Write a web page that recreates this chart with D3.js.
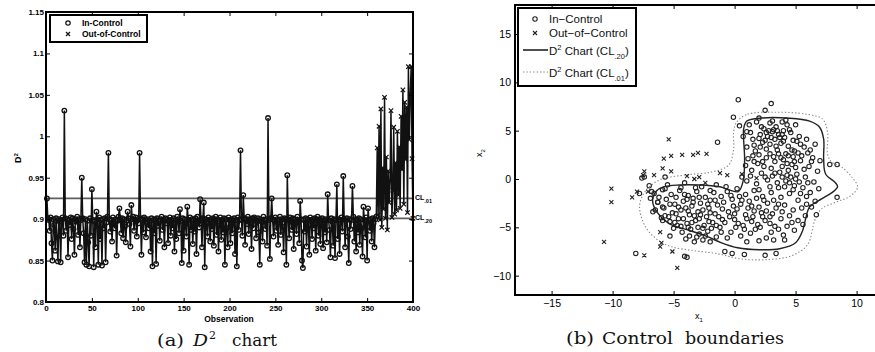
<!DOCTYPE html>
<html>
<head>
<meta charset="utf-8">
<script src="https://cdn.jsdelivr.net/npm/d3@7"></script>
<style>
  body { margin: 0; background: #fff; }
  svg { display: block; }
</style>
</head>
<body>
<svg id="chart" width="875" height="352"></svg>
<script>
// ---------- panel (a): D^2 statistic per observation ----------
const d2Values = [
  0.925, 0.901, 0.899, 0.886, 0.902, 0.871, 0.850, 0.900, 0.893, 0.862, 0.901, 0.878, 0.849, 0.900, 0.897, 0.848, 0.899, 0.902, 0.880, 1.031,
  0.901, 0.886, 0.900, 0.854, 0.899, 0.893, 0.902, 0.876, 0.901, 0.888, 0.857, 0.900, 0.897, 0.903, 0.881, 0.900, 0.866, 0.899, 0.950, 0.901,
  0.883, 0.848, 0.900, 0.845, 0.898, 0.872, 0.843, 0.901, 0.880, 0.936, 0.899, 0.842, 0.897, 0.866, 0.909, 0.900, 0.845, 0.902, 0.876, 0.899,
  0.844, 0.900, 0.889, 0.901, 0.848, 0.896, 0.903, 0.980, 0.900, 0.885, 0.899, 0.873, 0.902, 0.895, 0.889, 0.900, 0.856, 0.898, 0.903, 0.913,
  0.899, 0.883, 0.901, 0.877, 0.900, 0.891, 0.872, 0.898, 0.909, 0.901, 0.894, 0.867, 0.917, 0.900, 0.903, 0.886, 0.899, 0.902, 0.879, 0.900,
  0.895, 0.980, 0.901, 0.857, 0.899, 0.884, 0.902, 0.900, 0.878, 0.896, 0.900, 0.889, 0.898, 0.861, 0.901, 0.843, 0.899, 0.883, 0.900, 0.846,
  0.901, 0.892, 0.898, 0.874, 0.900, 0.903, 0.887, 0.899, 0.866, 0.901, 0.895, 0.900, 0.871, 0.898, 0.902, 0.880, 0.899, 0.889, 0.901, 0.861,
  0.899, 0.876, 0.903, 0.900, 0.883, 0.912, 0.898, 0.847, 0.901, 0.862, 0.900, 0.894, 0.879, 0.915, 0.899, 0.845, 0.902, 0.887, 0.900, 0.870,
  0.899, 0.885, 0.901, 0.858, 0.903, 0.897, 0.890, 0.924, 0.899, 0.866, 0.901, 0.920, 0.842, 0.900, 0.895, 0.879, 0.902, 0.899, 0.873, 0.900,
  0.888, 0.901, 0.868, 0.899, 0.903, 0.881, 0.900, 0.861, 0.897, 0.902, 0.875, 0.899, 0.884, 0.901, 0.845, 0.900, 0.889, 0.866, 0.902, 0.899,
  0.871, 0.900, 0.883, 0.898, 0.901, 0.858, 0.899, 0.843, 0.902, 0.887, 0.900, 0.983, 0.899, 0.880, 0.929, 0.901, 0.869, 0.900, 0.894, 0.903,
  0.882, 0.900, 0.899, 0.864, 0.901, 0.889, 0.902, 0.900, 0.877, 0.898, 0.901, 0.884, 0.845, 0.900, 0.897, 0.873, 0.903, 0.899, 0.888, 0.900,
  0.868, 1.022, 0.899, 0.852, 0.901, 0.925, 0.900, 0.879, 0.898, 0.902, 0.886, 0.900, 0.869, 0.899, 0.903, 0.881, 0.900, 0.891, 0.860, 0.901,
  0.899, 0.845, 0.953, 0.900, 0.877, 0.902, 0.899, 0.887, 0.901, 0.864, 0.900, 0.896, 0.882, 0.903, 0.899, 0.871, 0.922, 0.900, 0.850, 0.841,
  0.899, 0.885, 0.901, 0.867, 0.900, 0.893, 0.857, 0.902, 0.899, 0.876, 0.900, 0.889, 0.901, 0.862, 0.899, 0.903, 0.880, 0.900, 0.870, 0.898,
  0.901, 0.865, 0.899, 0.884, 0.900, 0.872, 0.930, 0.899, 0.887, 0.854, 0.901, 0.897, 0.868, 0.900, 0.853, 0.899, 0.942, 0.876, 0.900, 0.858,
  0.899, 0.902, 0.885, 0.952, 0.900, 0.866, 0.898, 0.901, 0.879, 0.847, 0.900, 0.888, 0.899, 0.940, 0.903, 0.873, 0.900, 0.861, 0.899, 0.884,
  0.901, 0.869, 0.900, 0.889, 0.855, 0.915, 0.899, 0.878, 0.902, 0.850, 0.913, 0.899, 0.886, 0.900, 0.873, 0.901, 0.895, 0.866, 0.900, 0.903,
  0.986, 0.905, 1.012, 0.899, 1.033, 0.890, 0.962, 0.912, 1.047, 0.901, 0.975, 0.887, 0.958, 0.920, 0.946, 1.031, 0.902, 0.935, 1.011, 0.906,
  0.968, 0.911, 1.006, 0.929, 0.987, 0.913, 1.024, 0.960, 1.056, 0.918, 1.041, 0.972, 1.035, 0.908, 1.084, 0.996, 1.051, 1.084, 0.973, 0.901
];
const firstOutOfControl = 361;           // observations from here on are out of control
const controlLimits = [
  { level: 0.901, label: ".20" },
  { level: 0.925, label: ".01" }
];
const obsTicks = [0, 50, 100, 150, 200, 250, 300, 350, 400];
const d2Ticks = [0.8, 0.85, 0.9, 0.95, 1, 1.05, 1.1, 1.15];

// ---------- panel (b): observations in the (x1, x2) plane ----------
const inControl = [
  [0.3,8.2],[3.0,7.8],[2.5,7.1],[-1.4,3.8],[-0.1,6.4],[0.4,5.5],[7.8,1.5],[8.4,1.5],[8.4,-1.9],[6.7,-3.7],
  [-7.4,0.2],[-7.0,-0.7],[-6.7,-3.4],[-5.9,-4.3],[-5.3,-5.9],[-4.1,-8.0],[-8.1,-7.7],[-2.0,-6.5],[-3.7,-5.9],
  [-0.8,-7.5],[0.8,-7.8],[2.5,-7.9],[-3.9,-8.1],[-0.2,-7.7],[3.4,-7.7],[-7.8,-1.5],[-6.8,-1.3],[-5.7,-1.0],
  [-6.3,-2.4],[-5.7,0.2],[-7.6,0.1],
  [1.2,5.6],[1.8,5.9],[2.4,5.2],[2.9,5.8],[3.4,5.4],[3.9,5.9],[4.5,5.1],[5.0,5.6],[2.1,4.6],[2.7,4.4],
  [3.1,4.9],[3.6,4.6],[4.1,4.3],[4.6,4.8],[5.3,4.4],[1.5,4.1],[2.3,3.8],[2.9,3.6],[3.3,4.1],[3.8,3.7],
  [4.4,3.4],[5.1,3.9],[5.7,3.3],[6.2,3.0],[1.0,3.3],[1.7,2.9],[2.6,3.1],[3.5,3.0],[4.2,2.6],[4.9,2.9],
  [5.5,2.4],[6.4,2.2],[0.7,4.4],[3.2,5.1],[2.5,4.0],[4.0,5.0],[4.8,4.0],[3.0,4.3],[3.7,4.3],[2.8,5.0],
  [1.1,2.1],[1.9,1.6],[2.6,2.2],[3.3,1.8],[4.0,2.0],[4.7,1.5],[5.4,1.9],[6.1,1.3],[6.8,0.8],[1.4,0.9],
  [2.2,0.6],[3.0,1.1],[3.7,0.7],[4.4,0.9],[5.1,0.5],[5.8,0.2],[6.5,-0.3],[1.0,-0.2],[1.8,-0.5],[2.7,-0.1],
  [3.5,-0.4],[4.2,-0.2],[4.9,-0.7],[5.6,-0.9],[6.2,-1.4],[0.9,1.4],[2.4,1.3],[3.9,1.3],[5.0,1.2],[4.6,0.2],
  [5.3,-0.3],[3.1,0.3],[4.1,-0.8],[5.9,-1.8],[6.6,-2.3],[2.0,2.5],[3.6,2.6],[4.8,2.3],[5.7,1.0],[4.3,1.6],
  [-0.6,-1.3],[0.2,-1.0],[0.9,-1.6],[1.6,-1.2],[2.3,-1.8],[3.0,-1.4],[3.8,-1.9],[4.5,-1.5],[5.2,-2.2],[-0.9,-2.4],
  [-0.2,-2.1],[0.5,-2.6],[1.2,-2.3],[2.0,-2.9],[2.7,-2.5],[3.4,-3.0],[4.1,-2.7],[4.8,-3.2],[5.5,-3.0],[-0.5,-3.4],
  [0.2,-3.1],[0.9,-3.7],[1.6,-3.3],[2.3,-3.9],[3.1,-3.6],[3.8,-4.1],[4.5,-3.8],[5.2,-4.3],[-0.8,-4.5],[0.0,-4.2],
  [0.7,-4.8],[1.4,-4.4],[2.1,-5.0],[2.9,-4.6],[3.6,-5.2],[4.3,-4.9],[-0.3,-5.5],[0.5,-5.9],[1.3,-5.6],[2.6,-6.1],
  [1.8,-2.0],[3.2,-2.2],[0.4,-1.8],[2.6,-3.3],[1.0,-4.1],[3.9,-3.4],[-0.1,-2.8],[1.9,-4.7],[4.0,-5.8],[5.9,-2.6],
  [-6.6,-1.5],[-5.9,-1.1],[-5.2,-1.6],[-4.5,-1.2],[-3.8,-1.7],[-3.1,-1.3],[-2.4,-1.9],[-1.7,-1.4],[-1.1,-1.8],[-6.3,-2.4],
  [-5.6,-2.1],[-4.9,-2.6],[-4.2,-2.3],[-3.5,-2.8],[-2.8,-2.5],[-2.1,-3.0],[-1.4,-2.7],[-6.5,-3.2],[-5.8,-3.0],[-5.1,-3.5],
  [-4.4,-3.2],[-3.7,-3.7],[-3.0,-3.4],[-2.3,-3.9],[-1.6,-3.6],[-6.0,-4.0],[-5.3,-4.4],[-4.6,-4.1],[-3.9,-4.6],[-3.2,-4.3],
  [-2.5,-4.8],[-1.8,-4.5],[-1.2,-5.0],[-5.0,-5.1],[-4.3,-5.5],[-3.6,-5.2],[-2.9,-5.7],[-2.2,-5.4],[-1.5,-6.0],[-4.0,-6.2],
  [-3.3,-6.5],[-2.6,-6.3],[-5.5,-0.6],[-4.1,-0.4],[-2.7,-0.8],[-1.5,-0.6],[-6.9,-2.0],[-4.7,-4.8],[-3.4,-2.0],[-2.0,-2.2],
  [-5.7,-3.8],[-4.0,-3.0],[-2.6,-3.2],[-3.1,-6.0],[-1.9,-5.1],
  [2.2,5.4],[2.6,4.8],[3.5,5.0],[3.9,4.6],[4.3,5.6],[2.0,4.2],[3.4,3.4],[4.0,3.9],[4.7,3.0],[5.4,3.6],
  [1.3,4.8],[1.6,3.5],[2.1,3.3],[5.9,4.1],[6.3,1.8],[6.0,2.7],[5.2,2.7],[3.8,2.2],[2.9,2.6],[1.5,2.4],
  [3.3,0.6],[3.9,0.2],[4.5,-0.4],[5.0,0.0],[3.6,-0.9],[4.3,0.4],[4.9,1.8],[2.5,0.2],[1.3,0.3],[2.0,-1.1],
  [5.4,-1.5],[6.0,-0.4],[6.9,-1.0],[4.8,-1.1],[2.9,-0.8],[0.6,0.2],[1.6,1.8],[3.2,2.3],[2.3,1.8],[4.4,2.4],
  [0.6,-2.2],[1.4,-2.8],[2.2,-3.5],[2.9,-3.9],[3.6,-2.6],[1.1,-3.0],[0.3,-4.6],[1.7,-5.2],[2.5,-4.3],[3.3,-4.9],
  [4.7,-4.5],[-0.4,-3.9],[0.8,-5.2],[3.0,-5.5],[4.9,-5.3],[-1.0,-3.1],[1.5,-3.9],[2.4,-2.2],[0.1,-5.0],[-0.6,-6.1],
  [-4.8,-1.9],[-4.1,-1.6],[-3.4,-2.4],[-2.9,-1.9],[-2.2,-2.6],[-1.6,-2.2],[-5.3,-2.6],[-4.6,-2.9],[-3.8,-3.3],[-3.3,-3.8],
  [-2.8,-3.7],[-2.0,-3.5],[-1.3,-3.9],[-5.4,-3.9],[-4.8,-3.6],[-4.2,-4.1],[-3.5,-4.5],[-2.9,-4.1],[-2.1,-4.4],[-1.5,-4.8],
  [-4.9,-4.5],[-4.4,-4.9],[-3.8,-5.0],[-3.0,-5.0],[-2.4,-5.9],[-1.0,-4.2],[-5.9,-2.9],[-6.2,-1.9],[-3.2,-0.9],[-2.0,-1.2],
  [-0.7,-0.8],[-0.3,-1.7],[0.0,-3.6],[1.0,-6.5],[2.0,-6.4],[3.2,-6.3],[-1.1,-5.5],[-2.6,-5.1],[-3.9,-2.1],[-4.4,-0.9],
  [3.1,6.0],[4.2,6.1],[2.0,6.3],[1.0,4.9],[6.6,3.6],[7.0,1.9],[6.3,-2.9],[5.8,-3.8],[5.6,-4.7],[4.1,-6.3]
];
const outOfControl = [
  [-5.4,4.1],[-5.2,2.4],[-4.3,2.5],[-3.4,2.5],[-3.0,2.7],[-2.3,2.6],[-5.9,1.1],[-5.2,0.8],[-7.5,0.4],[-7.4,0.8],
  [-10.1,-1.0],[-10.1,-2.4],[-10.7,-6.5],[-8.4,-1.9],[-8.0,-1.3],[-7.1,-1.3],[-6.1,-5.5],[-6.1,-7.0],[-6.0,-6.6],[-5.1,-7.5],
  [-4.7,-9.2],[-7.4,-7.9],[-1.2,0.6],[-0.6,0.4],[0.6,0.5],[1.8,0.1],[-3.9,0.3],[-3.3,0.0],[-6.6,0.4],[-5.8,2.1],
  [-2.9,0.2],[-2.4,-0.4]
];
// control boundary at CL.20 (solid) and CL.01 (dotted), traced as closed outlines
const boundary20 = [
  [0.98,5.98],[2.05,6.29],[4.51,6.29],[6.15,5.98],[6.97,5.36],[7.30,4.12],[7.30,2.06],[7.46,0.52],[8.28,-0.41],[8.44,-0.82],
  [7.95,-1.44],[7.13,-2.06],[6.15,-2.89],[5.82,-4.12],[5.57,-5.36],[5.0,-6.6],[3.69,-7.22],[2.05,-7.32],[0.25,-7.11],[-1.07,-6.6],
  [-2.38,-5.88],[-3.85,-5.26],[-5.33,-4.64],[-6.31,-3.51],[-6.72,-2.27],[-6.48,-1.34],[-5.82,-0.82],[-4.51,-0.62],[-2.87,-0.62],[-1.23,-0.80],
  [0.30,-1.30],[0.70,-0.2],[0.82,2.06],[0.74,4.12],[0.74,5.15]
];
const boundary01 = [
  [0.16,5.88],[1.07,6.70],[3.44,6.91],[5.90,6.70],[7.21,6.19],[7.62,4.85],[7.62,2.58],[7.95,1.75],[8.77,1.24],[9.67,0.10],
  [10.08,-0.82],[9.51,-1.75],[8.36,-2.37],[7.13,-3.09],[6.56,-4.33],[5.98,-6.80],[4.67,-7.94],[2.46,-8.35],[0.41,-8.25],[-1.39,-7.73],
  [-3.28,-7.42],[-5.16,-7.01],[-6.31,-6.29],[-7.30,-4.95],[-7.79,-2.78],[-7.30,-1.24],[-6.15,-0.10],[-4.10,0.41],[-1.89,0.72],[-0.49,1.44],
  [-0.08,3.09],[-0.08,4.85]
];
const x1Ticks = [-15, -10, -5, 0, 5, 10];
const x2Ticks = [-10, -5, 0, 5, 10, 15];

// ---------------------------------------------------------------
const svg = d3.select("#chart");
const sans = "'Liberation Sans', Arial, sans-serif";
const serif = "'DejaVu Serif', serif";
const crossPath = s => `M${-s},${-s}L${s},${s}M${-s},${s}L${s},${-s}`;
const minus = v => (v < 0 ? "\u2212" + Math.abs(v) : String(v));

function styleAxis(g, size, weight) {
  g.select(".domain").remove();
  g.selectAll(".tick line").attr("stroke", "#000").attr("stroke-width", 1);
  g.selectAll(".tick text").attr("fill", "#000").attr("font-family", sans)
    .attr("font-size", size).attr("font-weight", weight);
}

// ======================= panel (a) =======================
const xA = d3.scaleLinear().domain([0, 400]).range([46, 413]);
const yA = d3.scaleLinear().domain([0.8, 1.15]).range([302, 12]);
const gA = svg.append("g");

gA.selectAll("line.cl").data(controlLimits).join("line")
  .attr("class", "cl")
  .attr("x1", xA(0)).attr("x2", xA(400))
  .attr("y1", d => yA(d.level)).attr("y2", d => yA(d.level))
  .attr("stroke", "#5e5e5e").attr("stroke-width", 1.8);

const obs = d2Values.map((v, i) => ({ n: i + 1, v, out: i + 1 >= firstOutOfControl }));

gA.append("path").datum(obs)
  .attr("d", d3.line().x(d => xA(d.n)).y(d => yA(d.v)))
  .attr("fill", "none").attr("stroke", "#111").attr("stroke-width", 1.5);

gA.selectAll("circle.in").data(obs.filter(d => !d.out)).join("circle")
  .attr("class", "in")
  .attr("cx", d => xA(d.n)).attr("cy", d => yA(d.v)).attr("r", 2.3)
  .attr("fill", "none").attr("stroke", "#111").attr("stroke-width", 1.3);

gA.selectAll("path.out").data(obs.filter(d => d.out)).join("path")
  .attr("class", "out")
  .attr("transform", d => `translate(${xA(d.n)},${yA(d.v)})`)
  .attr("d", crossPath(2.2))
  .attr("fill", "none").attr("stroke", "#111").attr("stroke-width", 1.2);

// axes with inward ticks on all four sides
gA.append("g").attr("transform", "translate(0,302)")
  .call(d3.axisBottom(xA).tickValues(obsTicks).tickSizeInner(-4).tickSizeOuter(0).tickPadding(3))
  .call(g => styleAxis(g, 8, "bold"));
gA.append("g").attr("transform", "translate(0,12)")
  .call(d3.axisTop(xA).tickValues(obsTicks).tickSizeInner(-4).tickSizeOuter(0).tickFormat(""))
  .call(g => styleAxis(g, 8, "bold"));
gA.append("g").attr("transform", "translate(46,0)")
  .call(d3.axisLeft(yA).tickValues(d2Ticks).tickSizeInner(-4).tickSizeOuter(0).tickPadding(2)
    .tickFormat(d => String(+d.toFixed(2))))
  .call(g => styleAxis(g, 8, "bold"));
gA.append("g").attr("transform", "translate(413,0)")
  .call(d3.axisRight(yA).tickValues(d2Ticks).tickSizeInner(-4).tickSizeOuter(0).tickFormat(""))
  .call(g => styleAxis(g, 8, "bold"));

gA.append("rect").attr("x", 46).attr("y", 12).attr("width", 367).attr("height", 290)
  .attr("fill", "none").attr("stroke", "#000").attr("stroke-width", 2);

// control-limit labels on the right edge
controlLimits.forEach(c => {
  const t = gA.append("text").attr("x", 415).attr("y", yA(c.level) + 2)
    .attr("font-family", sans).attr("font-size", 7).attr("font-weight", "bold").attr("fill", "#000");
  t.append("tspan").text("CL");
  t.append("tspan").attr("dy", 3).attr("font-size", 5.5).text(c.label);
});

// axis titles
gA.append("text").attr("x", 229).attr("y", 322).attr("text-anchor", "middle")
  .attr("font-family", sans).attr("font-size", 8.5).attr("font-weight", "bold").text("Observation");
const yTitle = gA.append("text").attr("transform", "translate(21,158) rotate(-90)")
  .attr("text-anchor", "middle").attr("font-family", sans).attr("font-size", 9).attr("font-weight", "bold");
yTitle.append("tspan").text("D");
yTitle.append("tspan").attr("dy", -3).attr("font-size", 6).text("2");

// legend
const legA = gA.append("g");
legA.append("rect").attr("x", 50).attr("y", 15).attr("width", 97).attr("height", 27)
  .attr("fill", "#fff").attr("stroke", "#000").attr("stroke-width", 2);
legA.append("circle").attr("cx", 68).attr("cy", 23).attr("r", 2.2)
  .attr("fill", "none").attr("stroke", "#111").attr("stroke-width", 1.2);
legA.append("path").attr("transform", "translate(68,34)").attr("d", crossPath(2))
  .attr("stroke", "#111").attr("stroke-width", 1.2);
[["In-Control", 26], ["Out-of-Control", 37]].forEach(([s, y]) =>
  legA.append("text").attr("x", 82).attr("y", y).attr("font-family", sans)
    .attr("font-size", 8.5).attr("font-weight", "bold").text(s));

// caption
const capA = svg.append("text").attr("y", 346).attr("font-family", serif).attr("font-size", 17).attr("fill", "#111");
capA.append("tspan").attr("x", 157).attr("textLength", 27).attr("lengthAdjust", "spacingAndGlyphs").text("(a)");
capA.append("tspan").attr("x", 193).attr("font-style", "italic").attr("textLength", 15).attr("lengthAdjust", "spacingAndGlyphs").text("D");
capA.append("tspan").attr("x", 209).attr("dy", -7).attr("font-size", 11).text("2");
capA.append("tspan").attr("x", 232).attr("dy", 7).attr("textLength", 45).attr("lengthAdjust", "spacingAndGlyphs").text("chart");

// ======================= panel (b) =======================
const xB = d3.scaleLinear().domain([-18, 12]).range([515, 881]);
const yB = d3.scaleLinear().domain([-12, 18]).range([295, 5]);
const gB = svg.append("g");

const outline = d3.line().x(d => xB(d[0])).y(d => yB(d[1])).curve(d3.curveCatmullRomClosed.alpha(0.5));

gB.append("path").attr("d", outline(boundary01))
  .attr("fill", "none").attr("stroke", "#8a8a8a").attr("stroke-width", 1.1).attr("stroke-dasharray", "1.4,2");

gB.selectAll("circle.in").data(inControl).join("circle")
  .attr("class", "in")
  .attr("cx", d => xB(d[0])).attr("cy", d => yB(d[1])).attr("r", 2.2)
  .attr("fill", "none").attr("stroke", "#222").attr("stroke-width", 1.1);

gB.append("path").attr("d", outline(boundary20))
  .attr("fill", "none").attr("stroke", "#222").attr("stroke-width", 1.4);

gB.selectAll("path.out").data(outOfControl).join("path")
  .attr("class", "out")
  .attr("transform", d => `translate(${xB(d[0])},${yB(d[1])})`)
  .attr("d", crossPath(2))
  .attr("fill", "none").attr("stroke", "#222").attr("stroke-width", 1.1);

gB.append("g").attr("transform", "translate(0,295)")
  .call(d3.axisBottom(xB).tickValues(x1Ticks).tickSizeInner(-4).tickSizeOuter(0).tickPadding(5).tickFormat(minus))
  .call(g => styleAxis(g, 10.5, "normal"));
gB.append("g").attr("transform", "translate(0,5)")
  .call(d3.axisTop(xB).tickValues(x1Ticks).tickSizeInner(-4).tickSizeOuter(0).tickFormat(""))
  .call(g => styleAxis(g, 10.5, "normal"));
gB.append("g").attr("transform", "translate(515,0)")
  .call(d3.axisLeft(yB).tickValues(x2Ticks).tickSizeInner(-4).tickSizeOuter(0).tickPadding(4).tickFormat(minus))
  .call(g => styleAxis(g, 10.5, "normal"));

gB.append("path").attr("d", `M${xB(12)},5H515V295H${xB(12)}`)
  .attr("fill", "none").attr("stroke", "#000").attr("stroke-width", 2);

// axis titles
const x1Title = gB.append("text").attr("x", 695).attr("y", 319).attr("font-family", sans).attr("font-size", 9);
x1Title.append("tspan").text("x");
x1Title.append("tspan").attr("dy", 3).attr("font-size", 6).text("1");
const x2Title = gB.append("text").attr("transform", "translate(482,153) rotate(-90)")
  .attr("text-anchor", "middle").attr("font-family", sans).attr("font-size", 9);
x2Title.append("tspan").text("x");
x2Title.append("tspan").attr("dy", 3).attr("font-size", 6).text("2");

// legend
const legB = gB.append("g").attr("font-family", sans).attr("font-size", 11.5).attr("fill", "#111");
legB.append("rect").attr("x", 518).attr("y", 8).attr("width", 118).attr("height", 78)
  .attr("fill", "#fff").attr("stroke", "#000").attr("stroke-width", 2);
legB.append("circle").attr("cx", 535).attr("cy", 19).attr("r", 2.2)
  .attr("fill", "none").attr("stroke", "#222").attr("stroke-width", 1.1);
legB.append("path").attr("transform", "translate(535,33)").attr("d", crossPath(2))
  .attr("stroke", "#222").attr("stroke-width", 1.1);
legB.append("line").attr("x1", 523).attr("x2", 548).attr("y1", 50).attr("y2", 50)
  .attr("stroke", "#222").attr("stroke-width", 1.6);
legB.append("line").attr("x1", 523).attr("x2", 548).attr("y1", 72).attr("y2", 72)
  .attr("stroke", "#8a8a8a").attr("stroke-width", 1.1).attr("stroke-dasharray", "1.4,2");
legB.append("text").attr("x", 549).attr("y", 23).text("In\u2212Control");
legB.append("text").attr("x", 549).attr("y", 37).text("Out\u2212of\u2212Control");
[[".20", 55], [".01", 77]].forEach(([sub, y]) => {
  const t = legB.append("text").attr("x", 549).attr("y", y);
  t.append("tspan").text("D");
  t.append("tspan").attr("dy", -5).attr("font-size", 7.5).text("2");
  t.append("tspan").attr("dy", 5).text(" Chart (CL");
  t.append("tspan").attr("dy", 4).attr("font-size", 7.5).text(sub);
  t.append("tspan").attr("dy", -4).text(")");
});

// caption
const capB = svg.append("text").attr("y", 344).attr("font-family", serif).attr("font-size", 17).attr("fill", "#111");
capB.append("tspan").attr("x", 566).attr("textLength", 28).attr("lengthAdjust", "spacingAndGlyphs").text("(b)");
capB.append("tspan").attr("x", 602).attr("textLength", 71).attr("lengthAdjust", "spacingAndGlyphs").text("Control");
capB.append("tspan").attr("x", 685).attr("textLength", 99).attr("lengthAdjust", "spacingAndGlyphs").text("boundaries");
</script>
</body>
</html>
